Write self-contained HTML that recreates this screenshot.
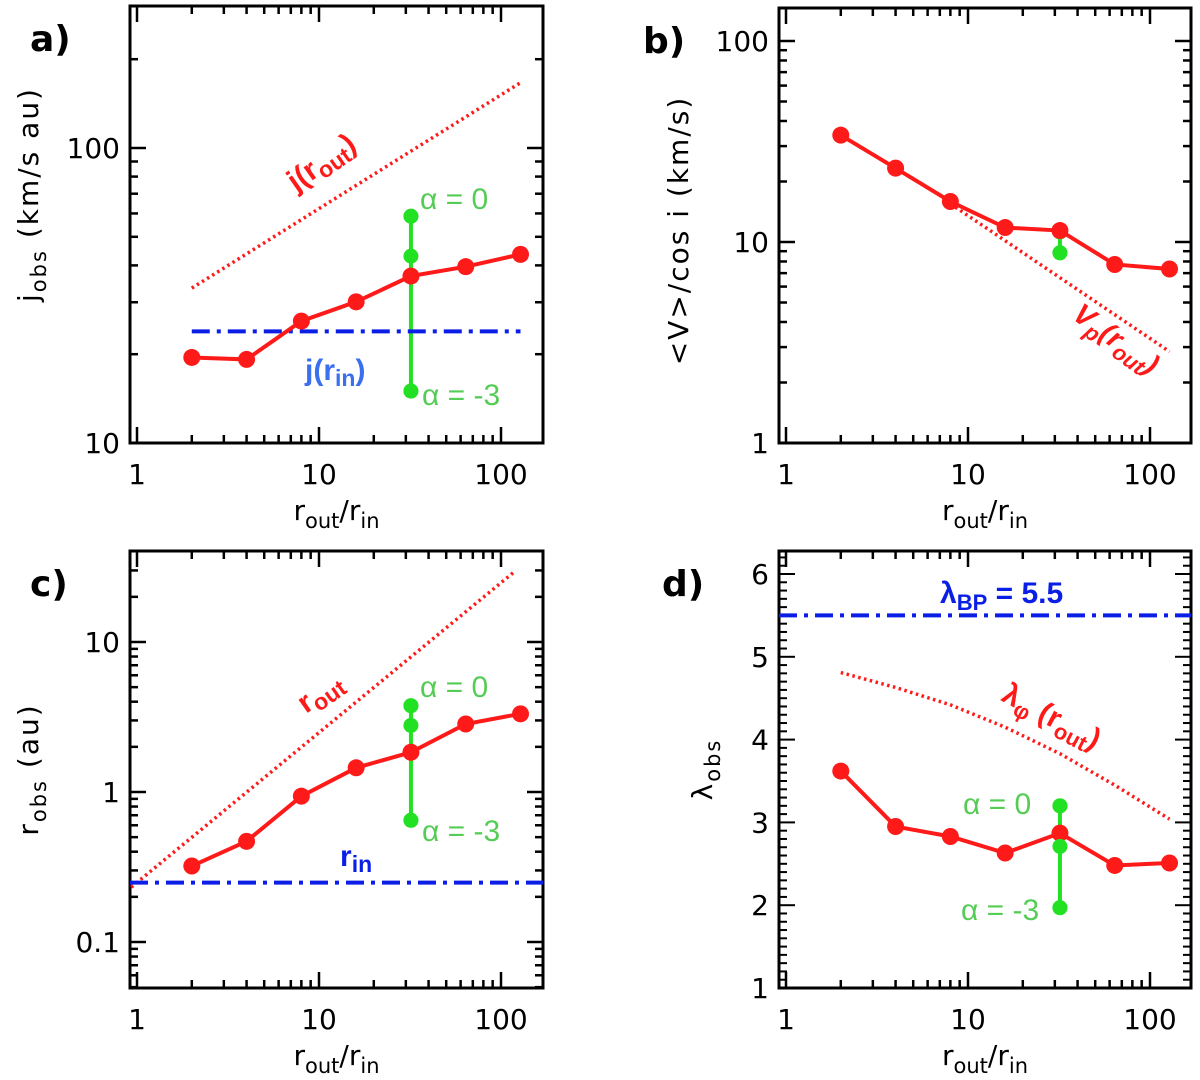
<!DOCTYPE html>
<html><head><meta charset="utf-8">
<style>
html,body{margin:0;padding:0;background:#fff;}
svg{display:block;font-family:"Liberation Sans",sans-serif;}
.dv{font-family:"DejaVu Sans",sans-serif;}
</style></head>
<body>
<svg id="fig" width="1200" height="1080" viewBox="0 0 1200 1080" xmlns="http://www.w3.org/2000/svg"></svg>
<script>
// ---- data ----
const ratios = [2, 4, 8, 16, 32, 64, 128];
const alphaX = 32;
const jObs = [19.5, 19.2, 25.9, 30.1, 36.8, 39.6, 43.6];
const jAlpha = [58.7, 43.0, 15.0];
const jIn = 23.9;
const jOutX = [2, 127];
const jOutY = [33.5, 166];
const vObs = [34.0, 23.3, 15.9, 11.8, 11.4, 7.73, 7.34];
const vAlpha = [11.2, 8.84];
const vpX = [8, 128];
const vpY = [15.5, 2.85];
const rObs = [0.321, 0.469, 0.938, 1.45, 1.84, 2.84, 3.32];
const rAlpha = [3.76, 2.78, 0.648];
const rIn = 0.249;
const rOutX = [0.93, 118];
const rOutY = [0.232, 29.3];
const lamObs = [3.62, 2.95, 2.83, 2.63, 2.87, 2.48, 2.51];
const lamAlpha = [3.20, 2.71, 1.97];
const lamBP = 5.5;
const lamPhiX = [2, 4, 8, 16, 32, 64, 128];
const lamPhiY = [4.81, 4.63, 4.42, 4.15, 3.83, 3.45, 3.04];
const xTickLabels = ["1", "10", "100"];
const aTickLabels = ["10", "100"];
const bTickLabels = ["1", "10", "100"];
const cTickLabels = ["0.1", "1", "10"];
const dTickLabels = ["1", "2", "3", "4", "5", "6"];

const NS = "http://www.w3.org/2000/svg";
const svg = document.getElementById('fig');
function mk(tag, attrs, parent) {
  const e = document.createElementNS(NS, tag);
  for (const k in attrs) e.setAttribute(k, attrs[k]);
  (parent || svg).appendChild(e);
  return e;
}
const RED = "#ff1a1a", GREEN = "#22e022", GTXT = "#55cc55", BLUE = "#0a1ee6";

function panel(p) {
  const g = mk('g', {});
  
  
  const X = v => p.x0 + 182 * Math.log10(v);
  const Y = p.ylin ? (v => p.B - p.ys * (v - p.ymin)) : (v => p.yb - p.ys * Math.log10(v));
  p.X = X; p.Y = Y;
  for (let d = 0; d <= 2; d++) for (let m = 1; m <= 9; m++) {
    const v = m * Math.pow(10, d); const x = X(v);
    if (x < p.L + 2 || x > p.R - 2) continue;
    const len = m === 1 ? 16 : 8;
    const t1 = mk('line', {x1: x, x2: x, y1: p.B, y2: p.B - len, stroke: '#000', 'stroke-width': 2.5}, g);
    
    
    mk('line', {x1: x, x2: x, y1: p.T, y2: p.T + len, stroke: '#000', 'stroke-width': 2.5}, g);
  }
  xTickLabels.forEach((s, i) => {
    const t = mk('text', {x: X(Math.pow(10, i)), y: p.B + 41, 'font-size': 28, 'text-anchor': 'middle', class: 'dv'}, g);
    t.textContent = s;
    
    
  });
  if (p.ylin) {
    for (let v = 1; v <= 6.3001; v += 0.1) {
      const y = Y(v); if (y < p.T + 1 || y > p.B - 1) continue;
      const major = Math.abs(v - Math.round(v)) < 1e-6;
      const len = major ? 16 : 8;
      mk('line', {x1: p.L, x2: p.L + len, y1: y, y2: y, stroke: '#000', 'stroke-width': 2}, g);
      mk('line', {x1: p.R, x2: p.R - len, y1: y, y2: y, stroke: '#000', 'stroke-width': 2}, g);
    }
  } else {
    for (let d = -2; d <= 3; d++) for (let m = 1; m <= 9; m++) {
      const v = m * Math.pow(10, d); const y = Y(v);
      if (y < p.T + 2 || y > p.B + 0.5) continue;
      const len = m === 1 ? 16 : 8;
      mk('line', {x1: p.L, x2: p.L + len, y1: y, y2: y, stroke: '#000', 'stroke-width': 2.5}, g);
      mk('line', {x1: p.R, x2: p.R - len, y1: y, y2: y, stroke: '#000', 'stroke-width': 2.5}, g);
    }
  }
  p.ytl.forEach((s, i) => {
    const v = parseFloat(s);
    const t = mk('text', {x: p.L - 10, y: Y(v) + 10, 'font-size': 28, 'text-anchor': 'end', class: 'dv'}, g);
    t.textContent = s;
    
    
  });
  const box = mk('rect', {x: p.L, y: p.T, width: p.R - p.L, height: p.B - p.T, fill: 'none', stroke: '#000', 'stroke-width': 3}, g);
  
  
  const lt = mk('text', {x: p.letterX, y: p.T + 45, 'font-size': 36, 'font-weight': 'bold', class: 'dv'}, g);
  lt.textContent = p.letter;
  
  
  const xt = mk('text', {x: (p.L + p.R) / 2, y: p.B + 77, 'font-size': 28, 'text-anchor': 'middle', class: 'dv'}, g);
  xt.innerHTML = 'r<tspan font-size="21" dy="8">out</tspan><tspan dy="-8">/r</tspan><tspan font-size="21" dy="8">in</tspan>';
  
  
  const yt = mk('text', {x: 0, y: 0, 'font-size': 28, 'letter-spacing': 2, 'text-anchor': 'middle', class: 'dv', transform: `translate(${p.ytx},${(p.T + p.B) / 2 + (p.ytdy || 0)}) rotate(-90)`}, g);
  yt.innerHTML = p.ytitle;
  
  
  return g;
}

function line(g, xs, ys, p, attrs, name) {
  const pts = xs.map((x, i) => p.X(x) + ',' + p.Y(ys[i])).join(' ');
  const e = mk('polyline', Object.assign({points: pts, fill: 'none'}, attrs), g);
  
  
  return e;
}
function hline(g, v, x1, x2, p, name) {
  const e = mk('line', {x1: x1, x2: x2, y1: p.Y(v), y2: p.Y(v), stroke: BLUE, 'stroke-width': 4, 'stroke-dasharray': '18,7,4,7'}, g);
  
  
}
function series(g, ys, p) {
  line(g, ratios, ys, p, {stroke: RED, 'stroke-width': 4}, 'obs-line');
  ys.forEach((v, i) => {
    const c = mk('circle', {cx: p.X(ratios[i]), cy: p.Y(v), r: 8.5, fill: RED}, g);
    
    
  });
}
function alphas(g, vals, p, showBar) {
  const x = p.X(alphaX);
  if (showBar) {
    const ys = vals.map(v => p.Y(v));
    const b = mk('line', {x1: x, x2: x, y1: Math.min(...ys), y2: Math.max(...ys), stroke: GREEN, 'stroke-width': 4}, g);
    
    
  }
  vals.forEach(v => {
    const c = mk('circle', {cx: x, cy: p.Y(v), r: 7.5, fill: GREEN}, g);
    
    
  });
}
function label(g, x, y, html, attrs, name) {
  const t = mk('text', Object.assign({x: x, y: y}, attrs), g);
  t.innerHTML = html;
  
  
}
const dot = {stroke: RED, 'stroke-width': 3.5, 'stroke-dasharray': '2.5,3.5', 'stroke-linecap': 'butt'};

// ---- panel a ----
const pa = {name: 'panel-a', letter: 'a)', letterX: 30, L: 130, R: 543, T: 6, B: 443, x0: 137, yb: 443 + 295, ys: 295, ytl: aTickLabels, ytx: 38, ytdy: -30,
  ytitle: 'j<tspan font-size="21" dy="8">obs</tspan><tspan dy="-8">  (km/s au)</tspan>'};
const ga = panel(pa);
alphas(ga, [jAlpha[0], jAlpha[2]], pa, true);
line(ga, jOutX, jOutY, pa, dot, 'j-rout-line');
hline(ga, jIn, pa.X(2), pa.X(128), pa, 'j-rin-line');
series(ga, jObs, pa);
alphas(ga, jAlpha, pa, false);
label(ga, 0, 0, 'j(r<tspan font-size="23" dy="6">out</tspan><tspan dy="-6">)</tspan>', {fill: RED, 'font-size': 30, 'font-weight': 'bold', transform: 'translate(296,192) rotate(-35)'}, 'j-rout-label');
label(ga, 305, 380, 'j(r<tspan font-size="23" dy="6">in</tspan><tspan dy="-6">)</tspan>', {fill: '#3a6ff0', 'font-size': 30, 'font-weight': 'bold'}, 'j-rin-label');
label(ga, 420, 209, 'α = 0', {fill: GTXT, 'font-size': 30}, 'alpha0-label');
label(ga, 422, 405, 'α = -3', {fill: GTXT, 'font-size': 30}, 'alpha3-label');

// ---- panel b ----
const pb = {name: 'panel-b', letter: 'b)', letterX: 643, L: 779, R: 1191, T: 8, B: 443, x0: 786, yb: 443, ys: 201, ytl: bTickLabels, ytx: 688, ytdy: 5,
  ytitle: '&lt;V&gt;/cos i  (km/s)'};
const gb = panel(pb);
line(gb, vpX, vpY, pb, dot, 'vp-rout-line');
alphas(gb, vAlpha, pb, true);
series(gb, vObs, pb);
alphas(gb, [vAlpha[1]], pb, false);
label(gb, 0, 0, 'V<tspan font-size="22" dy="7">p</tspan><tspan dy="-7">(r</tspan><tspan font-size="22" dy="7">out</tspan><tspan dy="-7">)</tspan>', {fill: RED, 'font-size': 29, 'font-weight': 'bold', 'font-style': 'italic', transform: 'translate(1071,318) rotate(36)'}, 'vp-rout-label');

// ---- panel c ----
const pc = {name: 'panel-c', letter: 'c)', letterX: 30, L: 130, R: 543, T: 551, B: 988, x0: 137, yb: 792, ys: 150, ytl: cTickLabels, ytx: 38, ytdy: 0,
  ytitle: 'r<tspan font-size="21" dy="8">obs</tspan><tspan dy="-8">  (au)</tspan>'};
const gc = panel(pc);
line(gc, rOutX, rOutY, pc, dot, 'rout-line');
hline(gc, rIn, pc.L, pc.R, pc, 'rin-line');
alphas(gc, [rAlpha[0], rAlpha[2]], pc, true);
series(gc, rObs, pc);
alphas(gc, rAlpha, pc, false);
label(gc, 0, 0, 'r<tspan font-size="23" dy="6">out</tspan>', {fill: RED, 'font-size': 30, 'font-weight': 'bold', transform: 'translate(306,714) rotate(-35)'}, 'rout-label');
label(gc, 340, 866, 'r<tspan font-size="23" dy="6">in</tspan>', {fill: BLUE, 'font-size': 30, 'font-weight': 'bold'}, 'rin-label');
label(gc, 420, 697, 'α = 0', {fill: GTXT, 'font-size': 30}, 'alpha0-label');
label(gc, 422, 841, 'α = -3', {fill: GTXT, 'font-size': 30}, 'alpha3-label');

// ---- panel d ----
const pd = {name: 'panel-d', letter: 'd)', letterX: 662, L: 779, R: 1191, T: 551, B: 988, x0: 786, ylin: true, ymin: 1, ys: 82.8, ytl: dTickLabels, ytx: 712, ytdy: 0,
  ytitle: 'λ<tspan font-size="21" dy="8">obs</tspan>'};
const gd = panel(pd);
hline(gd, lamBP, pd.L, pd.R, pd, 'lambda-bp-line');
line(gd, lamPhiX, lamPhiY, pd, dot, 'lambda-phi-line');
alphas(gd, [lamAlpha[0], lamAlpha[2]], pd, true);
series(gd, lamObs, pd);
alphas(gd, lamAlpha, pd, false);
label(gd, 940, 603, 'λ<tspan font-size="22" dy="7">BP</tspan><tspan dy="-7"> = 5.5</tspan>', {fill: BLUE, 'font-size': 30, 'font-weight': 'bold'}, 'lambda-bp-label');
label(gd, 0, 0, 'λ<tspan font-size="22" dy="7">φ</tspan><tspan dy="-7"> (r</tspan><tspan font-size="22" dy="7">out</tspan><tspan dy="-7">)</tspan>', {fill: RED, 'font-size': 30, 'font-weight': 'bold', transform: 'translate(1000,700) rotate(28)'}, 'lambda-phi-label');
label(gd, 963, 814, 'α = 0', {fill: GTXT, 'font-size': 30}, 'alpha0-label');
label(gd, 961, 920, 'α = -3', {fill: GTXT, 'font-size': 30}, 'alpha3-label');
</script>
</body></html>
